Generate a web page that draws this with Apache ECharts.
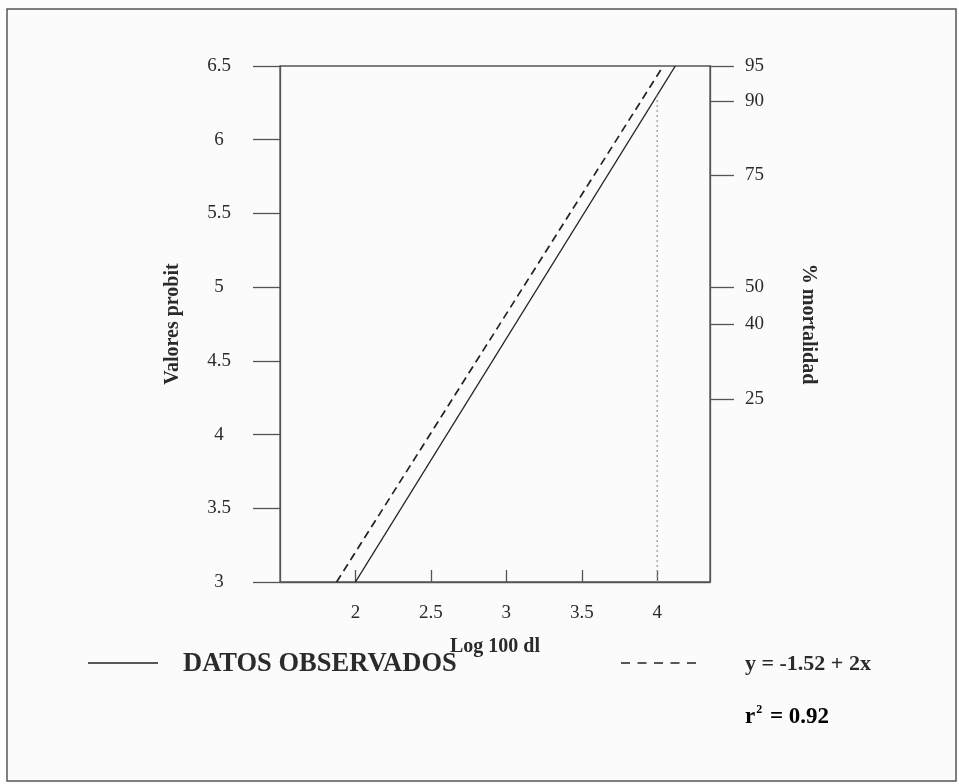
<!DOCTYPE html>
<html>
<head>
<meta charset="utf-8">
<script src="https://cdn.jsdelivr.net/npm/echarts@6/dist/echarts.min.js"></script>
<style>
  html, body { margin: 0; padding: 0; background: #fdfdfd; }
  #chart { width: 959px; height: 784px; }
</style>
</head>
<body>
<div id="chart"></div>
<script>
// Probit axis ticks (left) and log-dose ticks (bottom)
const probitTicks = [3, 3.5, 4, 4.5, 5, 5.5, 6, 6.5];
const logDoseTicks = [2, 2.5, 3, 3.5, 4];

// Mortality percentages shown on the right, placed at their probit positions
const mortalityLabels = [95, 90, 75, 50, 40, 25];
const mortalityProbit = [6.5, 6.26, 5.76, 5.0, 4.75, 4.24];

// Regression lines: observed data and fitted equation (log dose, probit)
const observedX = [2.0, 4.12];
const observedY = [3.0, 6.5];
const fittedX = [1.875, 4.04];
const fittedY = [3.0, 6.5];

// Guide at log dose 4 up to the observed line
const guideX = [4, 4];
const guideY = [3, 6.3];

// Key entries and fit statistic
const observedName = 'DATOS OBSERVADOS';
const fittedName = 'y = -1.52 + 2x';
const rSquared = '0.92';

const zip = (xs, ys) => xs.map((x, i) => [x, ys[i]]);

const serif = 'Liberation Serif';
const ink = '#2b2b2b';
const axisInk = '#555';

const chart = echarts.init(document.getElementById('chart'), null, { renderer: 'canvas' });

chart.setOption({
  backgroundColor: '#fdfdfd',
  animation: false,
  grid: {
    left: 280, right: 249, top: 66, bottom: 202,
    show: true, borderColor: axisInk, borderWidth: 1.3,
    backgroundColor: 'transparent'
  },
  xAxis: {
    type: 'value', min: 1.5, max: 4.35,
    name: 'Log 100 dl', nameLocation: 'middle', nameGap: 55,
    nameTextStyle: { fontFamily: serif, fontWeight: 'bold', fontSize: 20, color: ink },
    axisLine: { show: true, lineStyle: { color: axisInk, width: 1.3 } },
    axisTick: { show: true, inside: true, length: 12, customValues: logDoseTicks,
                lineStyle: { color: axisInk, width: 1.3 } },
    axisLabel: { customValues: logDoseTicks, margin: 22, fontFamily: serif, fontSize: 19, color: ink,
                 formatter: v => String(v) },
    splitLine: { show: false }
  },
  yAxis: [
    {
      type: 'value', min: 3, max: 6.5, interval: 0.5, position: 'left',
      name: 'Valores probit', nameLocation: 'middle', nameGap: 97, nameRotate: 90,
      nameTextStyle: { fontFamily: serif, fontWeight: 'bold', fontSize: 20, color: ink },
      axisLine: { show: true, lineStyle: { color: axisInk, width: 1.3 } },
      axisTick: { show: true, inside: false, length: 27, lineStyle: { color: axisInk, width: 1.3 } },
      axisLabel: { margin: 61, align: 'center', fontFamily: serif, fontSize: 19, color: ink,
                   formatter: v => String(v) },
      splitLine: { show: false }
    },
    {
      type: 'value', min: 3, max: 6.5, position: 'right',
      name: '% mortalidad', nameLocation: 'middle', nameGap: 88, nameRotate: -90,
      nameTextStyle: { fontFamily: serif, fontWeight: 'bold', fontSize: 20, color: ink },
      axisLine: { show: true, lineStyle: { color: axisInk, width: 1.3 } },
      axisTick: { show: true, inside: false, length: 24, customValues: mortalityProbit,
                  lineStyle: { color: axisInk, width: 1.3 } },
      axisLabel: { customValues: mortalityProbit, margin: 35, align: 'left',
                   fontFamily: serif, fontSize: 19, color: ink,
                   formatter: v => {
                     const i = mortalityProbit.indexOf(v);
                     return i >= 0 ? String(mortalityLabels[i]) : '';
                   } },
      splitLine: { show: false }
    }
  ],
  graphic: [
    {
      type: 'rect', silent: true, z: -1,
      shape: { x: 7, y: 9, width: 949, height: 772 },
      style: { fill: '#fbfbfb', stroke: '#555', lineWidth: 1.5 }
    },
    // key: solid line for observed data
    {
      type: 'line', silent: true,
      shape: { x1: 88, y1: 663, x2: 158, y2: 663 },
      style: { stroke: '#222', lineWidth: 1.3 }
    },
    {
      type: 'text', x: 183, y: 664, silent: true,
      style: { text: observedName, fontFamily: serif, fontWeight: 'bold', fontSize: 26.5,
               fill: ink, align: 'left', verticalAlign: 'middle' }
    },
    // key: dashed line for fitted equation
    {
      type: 'line', silent: true,
      shape: { x1: 621, y1: 663, x2: 696, y2: 663 },
      style: { stroke: '#222', lineWidth: 1.6, lineDash: [9, 7.5] }
    },
    {
      type: 'text', x: 745, y: 664, silent: true,
      style: { text: fittedName, fontFamily: serif, fontWeight: 'bold', fontSize: 22,
               fill: ink, align: 'left', verticalAlign: 'middle' }
    },
    {
      type: 'text', x: 745, y: 717, silent: true,
      style: {
        text: '{b|r}{s|2}{b| = ' + rSquared + '}',
        align: 'left', verticalAlign: 'middle',
        rich: {
          b: { fontFamily: serif, fontWeight: 'bold', fontSize: 23, color: ink },
          s: { fontFamily: serif, fontWeight: 'bold', fontSize: 12, color: ink, padding: [0, 2, 14, 1] }
        }
      }
    }
  ],
  series: [
    {
      name: observedName, type: 'line', yAxisIndex: 0,
      data: zip(observedX, observedY), symbol: 'none',
      lineStyle: { color: '#222', width: 1.4, type: 'solid' }
    },
    {
      name: fittedName, type: 'line', yAxisIndex: 0,
      data: zip(fittedX, fittedY), symbol: 'none',
      lineStyle: { color: '#222', width: 1.7, type: [8, 5] }
    },
    {
      name: 'guide', type: 'line', yAxisIndex: 0,
      data: zip(guideX, guideY), symbol: 'none',
      lineStyle: { color: '#999', width: 1.3, type: [2, 3] }
    }
  ]
});
</script>
</body>
</html>
